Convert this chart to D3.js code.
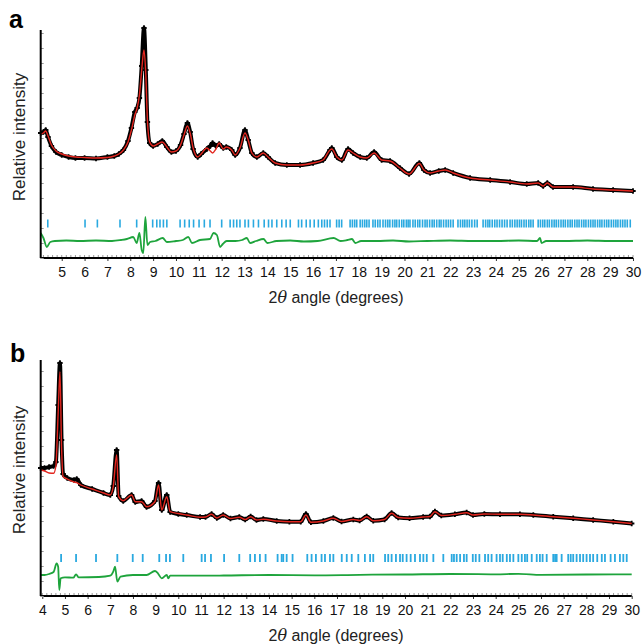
<!DOCTYPE html>
<html><head><meta charset="utf-8">
<script src="https://cdn.jsdelivr.net/npm/d3@7"></script>
<style>body{margin:0;background:#fff}svg{display:block}text{font-family:"Liberation Sans",Arial,sans-serif}</style>
</head><body>
<svg id="c" width="643" height="644"></svg>
<script>
// ---------- Panel a data ----------
const xA = [4.08,4.2,4.3,4.4,4.55,4.75,5.0,5.3,5.6,6.0,6.5,7.0,7.3,7.5,7.7,7.9,8.05,8.2,8.3,8.4,8.5,8.6,8.68,8.75,8.85,9.0,9.2,9.4,9.6,9.8,10.0,10.2,10.35,10.5,10.62,10.75,10.95,11.1,11.35,11.5,11.6,11.75,11.89,12.07,12.2,12.44,12.59,12.8,13.02,13.16,13.32,13.54,13.82,14.03,14.34,14.85,15.43,16.0,16.44,16.74,16.82,17.04,17.26,17.53,17.75,18.06,18.35,18.67,19.0,19.37,19.8,20.2,20.65,20.85,21.12,21.5,21.78,22.13,22.87,23.75,24.62,25.35,25.85,26.07,26.25,26.5,27.38,28.25,29.13,30];
const obsA = [125,126,128,121,112,106,103,101,100,100,99.5,101,102,104,108,117,130,146,150,160,192,230,188,136,115,112,114,117,111,106,107,113,124,135,126,109,101,104,109,112,115,112,114,110,111,108,103,110,128,118,105,101,105,101,95,93,93,95,98,108,110,101,98,109,105,101,100,106,98,97,90,84,95,88,85,87,88,85,80,78,76,74,75,72,75,71,71,69,68,67];
const calcA = [124,125,127,122,113,107,104,102,101,100.5,100,100.5,102,104,108,116,128,143,150,163,188,208,183,138,116,112,114,116,111,106,107,113,123,132,125,110,101,104,110,107,105,109,115,109,111,108,103,110,125,118,105,101,105,101,95,93,93,95,98,108,109,101,98,108,105,101,100,105,98,97,90,84,94.5,88,85,87,88,85,80,78,76,74,75,72,75,71,71,69,68,67];
const xDiffA = [4.08,4.2,4.35,4.5,4.7,5.2,5.8,6.5,7.2,7.6,7.85,8.13,8.28,8.4,8.5,8.57,8.66,8.75,8.87,9.1,9.42,9.6,10.0,10.3,10.54,10.7,11.05,11.49,11.64,11.79,11.93,12.05,12.22,12.6,12.9,13.1,13.24,13.5,13.83,14.0,14.4,15.0,15.6,16.2,16.9,17.2,17.5,17.7,17.85,18.1,18.8,19.5,20.2,21.0,22.0,23.0,24.0,25.0,25.8,25.93,26.0,26.2,27.0,28.0,29.0,30.0];
const diffA = [25,20,11,16,17,17.5,17,17.5,17,18,19,21,15,25,8,5,41,13,16,17,20,16,17,18,21,15,18,19,25,23,11,14,17,17,18,20,15,17,19,15,17,17.5,16.5,17,20,17,18,19,15,17,17,17.5,16.5,17,17.5,17,17,17.5,17,20,15,17,17,17.5,17,17];
const reflA = [4.39,6.02,6.56,7.55,8.28,8.98,9.16,9.30,9.45,9.6,10.18,10.38,10.58,10.77,11.01,11.24,11.49,12.0,12.37,12.52,12.66,12.8,13.02,13.17,13.39,13.61,13.86,14.05,14.2,14.41,14.63,14.82,15.0,15.36,15.5,15.7,15.87,16.05,16.23,
16.38,16.5,16.62,16.74,17.03,17.14,17.25,17.62,17.72,17.82,17.91,18.06,18.16,18.26,18.35,18.45,18.62,18.72,18.83,18.93,
19.06,19.17,19.27,19.36,19.48,19.58,19.66,19.77,19.88,19.97,20.08,20.16,20.24,
20.37,20.47,20.58,20.67,20.79,20.9,20.99,21.1,21.21,21.3,21.41,21.52,21.6,21.71,21.82,21.92,22.02,22.13,
22.34,22.45,22.55,22.64,22.74,22.84,22.95,23.07,23.18,
23.44,23.55,23.65,23.73,23.84,23.95,24.05,24.16,24.27,24.38,24.49,
24.62,24.72,24.83,24.93,25.03,25.12,25.23,25.33,25.44,25.53,25.63,
25.85,25.95,26.05,26.14,26.25,26.34,26.45,26.55,26.64,26.74,26.85,26.95,27.04,27.15,27.25,27.34,27.45,27.55,27.64,27.75,27.85,27.94,28.05,28.15,28.25,28.34,28.45,28.55,28.64,28.75,28.85,28.94,29.05,29.15,29.25,29.34,29.45,29.55,29.65,29.75,29.88];
const ticksA = [5,6,7,8,9,10,11,12,13,14,15,16,17,18,19,20,21,22,23,24,25,26,27,28,29,30];

// ---------- Panel b data ----------
const xB = [3.93,4.1,4.3,4.5,4.6,4.7,4.78,4.85,4.92,5.1,5.4,5.52,5.7,6.2,6.7,7.0,7.13,7.28,7.37,7.57,7.94,8.1,8.38,8.6,8.97,9.13,9.27,9.49,9.64,10.0,10.37,10.96,11.2,11.47,11.7,11.98,12.3,12.69,12.95,13.19,13.45,13.75,14.34,14.9,15.4,15.63,15.85,16.4,16.84,17.2,17.72,18.0,18.31,18.6,19.1,19.41,19.7,20.2,20.8,21.1,21.32,21.6,22.2,22.72,23.0,23.5,24.19,25.07,25.66,26.54,27.42,28.3,29.19,30.0];
const obsB = [128,128,129,130,134,191,233,156,122,118,116,117,111,107,103,101,110,146,100,95,101,94,95,89,95,113,86,101,84,82,81,79,79,82,78,81,77.5,79,76.5,79.5,76,77,75,74.3,74.3,82,73.7,75,78,74.5,76.5,75.5,79.5,75.3,76.5,83,78.5,77.7,79,79.5,84.5,80.5,81.7,83.5,81,82,81.7,81.7,81,79.3,77.7,76,74.3,72.5];
const calcB = [126,125,123,122.7,130,183,224.3,149.3,119.3,117,114,113.3,111,107,103,101,109.3,141,99.3,95.3,101,94.3,94.3,89.3,94.3,111,86,99.3,84.3,82.5,81,78.7,79,81.7,78,81,77.5,78.7,76.5,79.3,76,76.7,75,74.3,74.3,81,73.7,75,77.7,74.5,76.5,75.5,79.3,75.3,76.5,82.7,78.5,77.7,79,79.5,84.3,80.5,81.7,83.3,81,82,81.7,81.7,81,79.3,77.7,76,74.3,72.5];
const xDiffB = [3.93,4.1,4.3,4.5,4.63,4.7,4.75,4.81,5.0,5.37,5.49,5.6,6.5,7.0,7.13,7.21,7.31,7.45,8.0,8.6,8.97,9.1,9.27,9.49,9.56,9.64,10.5,12.0,14.0,16.0,18.0,20.0,22.0,24.0,25.0,26.0,28.0,30.0];
const diffB = [21,21,22,24,32.7,29.3,6,17.7,18.7,18.3,21.7,18.7,19,20.3,24.3,29.3,14.3,19.3,21,21,25,22.7,17.7,21,17.7,20.3,20.3,20.5,21,20.7,21.2,21.5,22,21.7,22.2,21.2,21.5,21.7];
const reflB = [4.83,5.49,6.37,7.31,7.99,8.43,9.16,9.46,9.63,10.22,11.03,11.18,11.44,12.02,12.69,13.17,13.38,13.6,13.85,14.38,14.56,14.63,14.78,15.04,15.69,15.88,16.07,
16.32,16.47,16.69,16.84,17.21,17.43,17.65,17.94,18.23,18.46,18.60,19.12,19.26,19.41,19.60,19.78,19.90,20.07,20.25,20.44,20.66,20.81,20.96,21.25,21.69,22.06,22.16,22.28,22.43,22.60,22.72,22.99,23.12,23.28,23.53,23.67,23.82,24.04,24.19,24.31,24.49,24.63,24.78,25.00,25.15,25.29,25.39,25.59,25.81,25.95,26.07,26.25,26.54,26.62,26.69,26.91,27.20,27.31,27.42,27.57,27.72,27.86,28.01,28.16,28.30,28.48,28.68,28.82,29.07,29.26,29.48,29.63,29.78];
const ticksB = [4,5,6,7,8,9,10,11,12,13,14,15,16,17,18,19,20,21,22,23,24,25,26,27,28,29,30];

const svg = d3.select("#c");
const RED = "#e3261f", GREEN = "#1ea43c", BLUE = "#2aa9e0";

function panel(o) {
  const g = svg.append("g");
  const x = d3.scaleLinear().domain(o.xDomain).range([o.left, o.right]);
  const y = d3.scaleLinear().domain([0, o.yMax]).range([o.bottom, o.top]);
  const n = Math.min(o.xs.length, o.obs.length, o.calc.length);
  const idx = d3.range(n);
  const nd = Math.min(o.xd.length, o.diff.length);

  g.append("g").selectAll("line").data(o.refl).join("line")
    .attr("x1", d => x(d)).attr("x2", d => x(d))
    .attr("y1", o.reflY - 4).attr("y2", o.reflY + 4)
    .attr("stroke", BLUE).attr("stroke-width", o.reflW);

  g.append("path").datum(d3.range(nd))
    .attr("fill", "none").attr("stroke", GREEN).attr("stroke-width", 1.8)
    .attr("d", d3.line().x(i => x(o.xd[i])).y(i => y(o.diff[i])).curve(d3.curveMonotoneX));

  g.append("path").datum(idx)
    .attr("fill", "none").attr("stroke", "#000").attr("stroke-width", 4).attr("stroke-linejoin", "round")
    .attr("d", d3.line().x(i => x(o.xs[i])).y(i => y(o.obs[i])).curve(d3.curveMonotoneX));
  const sym = d3.symbol().type(d3.symbolCross).size(16);
  g.append("g").selectAll("path").data(idx).join("path")
    .attr("d", sym).attr("fill", "#000")
    .attr("transform", i => `translate(${x(o.xs[i])},${y(o.obs[i])})`);

  g.append("path").datum(idx)
    .attr("fill", "none").attr("stroke", RED).attr("stroke-width", 1.4)
    .attr("d", d3.line().x(i => x(o.xs[i])).y(i => y(o.calc[i])).curve(d3.curveMonotoneX));

  const xa = g.append("g").attr("transform", `translate(0,${o.bottom})`)
    .call(d3.axisBottom(x).tickValues(o.ticks).tickSize(3).tickPadding(6).tickFormat(d3.format("d")));
  xa.select(".domain").remove();
  xa.selectAll("text").attr("font-size", 14).attr("fill", "#111")
    .attr("font-family", '"Liberation Sans",Arial,sans-serif');
  xa.selectAll("line").attr("stroke", "#333");
  const minor = d3.range(Math.ceil(o.xDomain[0] * 5) / 5, 30.001, 0.2);
  g.append("g").selectAll("line").data(minor).join("line")
    .attr("x1", d => x(d)).attr("x2", d => x(d))
    .attr("y1", o.bottom - 3).attr("y2", o.bottom)
    .attr("stroke", "#999").attr("stroke-width", 1);
  g.append("line").attr("x1", o.left).attr("x2", o.right)
    .attr("y1", o.bottom).attr("y2", o.bottom).attr("stroke", "#000").attr("stroke-width", 2);

  const ya = g.append("g").attr("transform", `translate(${o.left},0)`)
    .call(d3.axisRight(y).tickValues(d3.range(0, o.yMax, 15)).tickSize(3).tickFormat(""));
  ya.select(".domain").remove();
  ya.selectAll("line").attr("stroke", "#999");
  g.append("line").attr("x1", o.left).attr("x2", o.left)
    .attr("y1", o.top).attr("y2", o.bottom).attr("stroke", "#000").attr("stroke-width", 2);

  g.append("text").attr("x", o.labelX).attr("y", o.labelY)
    .attr("font-size", 25).attr("font-weight", "bold").text(o.name);
  g.append("text").attr("transform", `translate(25,${o.ylabY}) rotate(-90)`)
    .attr("text-anchor", "middle").attr("font-size", 17).attr("fill", "#222").text("Relative intensity");
  const t = g.append("text").attr("x", o.titleX).attr("y", o.titleY)
    .attr("text-anchor", "middle").attr("font-size", 16).attr("fill", "#222");
  t.append("tspan").text("2");
  t.append("tspan").attr("font-style", "italic").attr("font-family", '"DejaVu Serif",serif').text("θ");
  t.append("tspan").text(" angle (degrees)");
}

panel({name: "a", xs: xA, obs: obsA, calc: calcA, xd: xDiffA, diff: diffA, refl: reflA, ticks: ticksA,
  xDomain: [4.08, 30], left: 40.7, right: 633, top: 30, bottom: 258, yMax: 228,
  reflY: 223.5, reflW: 1.6, labelX: 9, labelY: 28, ylabY: 137, titleX: 336, titleY: 303});
panel({name: "b", xs: xB, obs: obsB, calc: calcB, xd: xDiffB, diff: diffB, refl: reflB, ticks: ticksB,
  xDomain: [3.93, 30], left: 40.7, right: 631.7, top: 360, bottom: 596, yMax: 236,
  reflY: 558, reflW: 1.8, labelX: 10, labelY: 362, ylabY: 470, titleX: 336, titleY: 641});
</script>
</body></html>
